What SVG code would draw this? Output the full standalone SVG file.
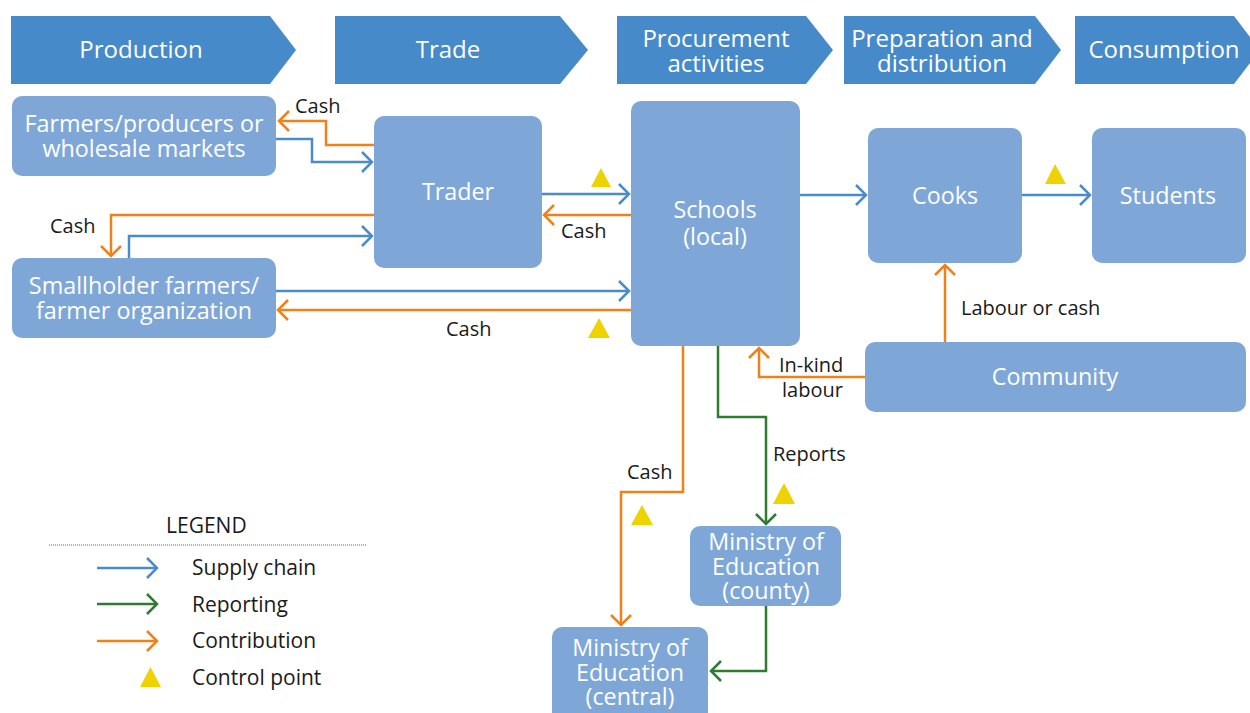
<svg xmlns="http://www.w3.org/2000/svg" width="1250" height="713" viewBox="0 0 1250 713">
<style>
.chev{fill:#468ac9}
.node{fill:#7ea7d8}
.bt{font-family:'Open Sans','Liberation Sans',sans-serif;font-size:24px;fill:#fff;text-anchor:middle}
.nt{font-family:'Open Sans','Liberation Sans',sans-serif;font-size:23.3px;fill:#fff;text-anchor:middle}
.lbl{font-family:'Open Sans','Liberation Sans',sans-serif;font-size:20px;fill:#1a1a1a}
.lg{font-family:'Open Sans','Liberation Sans',sans-serif;font-size:21px;fill:#1a1a1a}
.c{fill:none;stroke-width:2.5}
.b{stroke:#4a8bca;marker-end:url(#ab)}
.o{stroke:#f08118;marker-end:url(#ao)}
.g{stroke:#2e7b31;marker-end:url(#ag)}
.tri{fill:#efd300}
</style>
<defs>
<marker id="ab" markerUnits="userSpaceOnUse" viewBox="-12 -12 16 24" markerWidth="16" markerHeight="24" refX="0" refY="0" orient="auto"><path d="M-10,-10 L0,0 L-10,10" fill="none" stroke="#4a8bca" stroke-width="2.5"/></marker>
<marker id="ao" markerUnits="userSpaceOnUse" viewBox="-12 -12 16 24" markerWidth="16" markerHeight="24" refX="0" refY="0" orient="auto"><path d="M-10,-10 L0,0 L-10,10" fill="none" stroke="#f08118" stroke-width="2.5"/></marker>
<marker id="ag" markerUnits="userSpaceOnUse" viewBox="-12 -12 16 24" markerWidth="16" markerHeight="24" refX="0" refY="0" orient="auto"><path d="M-10,-10 L0,0 L-10,10" fill="none" stroke="#2e7b31" stroke-width="2.5"/></marker>
</defs>
<rect width="1250" height="713" fill="#fff"/>

<g id="stage-production"><path class="chev" d="M11,16 H270 L296,50 L270,84 H11 Z"/><text class="bt" x="141" y="58">Production</text></g>
<g id="stage-trade"><path class="chev" d="M335,16 H560 L588,50 L560,84 H335 Z"/><text class="bt" x="448" y="58">Trade</text></g>
<g id="stage-procurement"><path class="chev" d="M617,16 H806 L833,50 L806,84 H617 Z"/><text class="bt" x="716" y="47">Procurement<tspan x="716" dy="25">activities</tspan></text></g>
<g id="stage-preparation"><path class="chev" d="M844,16 H1035 L1061,50 L1035,84 H844 Z"/><text class="bt" x="942" y="47">Preparation and<tspan x="942" dy="25">distribution</tspan></text></g>
<g id="stage-consumption"><path class="chev" d="M1075,16 H1234 L1260,50 L1234,84 H1075 Z"/><text class="bt" x="1164" y="58">Consumption</text></g>

<g id="connectors">
<path class="c o" d="M374,145 H326 V121 H279"/>
<path class="c b" d="M276,139 H312 V162 H372"/>
<path class="c o" d="M374,215 H111 V256"/>
<path class="c b" d="M129,258 V236 H372"/>
<path class="c b" d="M542,194 H629"/>
<path class="c o" d="M631,215 H544"/>
<path class="c b" d="M276,291 H629"/>
<path class="c o" d="M631,310 H278"/>
<path class="c b" d="M800,195 H866"/>
<path class="c b" d="M1022,195 H1090"/>
<path class="c o" d="M945,342 V265"/>
<path class="c o" d="M865,377 H759 V348"/>
<path class="c o" d="M683,346 V492 H621 V625"/>
<path class="c g" d="M718,346 V417 H766 V524"/>
<path class="c g" d="M766,606 V671 H711"/>
</g>

<g id="labels">
<text class="lbl" x="295" y="113">Cash</text>
<text class="lbl" x="50" y="233">Cash</text>
<text class="lbl" x="561" y="238">Cash</text>
<text class="lbl" x="446" y="336">Cash</text>
<text class="lbl" x="961" y="315">Labour or cash</text>
<text class="lbl" x="779" y="372">In-kind<tspan x="782" dy="25">labour</tspan></text>
<text class="lbl" x="627" y="479">Cash</text>
<text class="lbl" x="773" y="461">Reports</text>
</g>

<g id="control-points">
<polygon class="tri" points="591,187 601,168 611,187"/>
<polygon class="tri" points="588,338 599,318 610,338"/>
<polygon class="tri" points="1045,184 1055,164 1066,184"/>
<polygon class="tri" points="631,525 642,505 653,525"/>
<polygon class="tri" points="773,504 784,483 795,504"/>
</g>

<g id="farmers"><rect class="node" x="12" y="96" width="264" height="80" rx="10"/><text class="nt" x="144" y="132">Farmers/producers or<tspan x="144" dy="25">wholesale markets</tspan></text></g>
<g id="smallholder"><rect class="node" x="12" y="258" width="264" height="80" rx="10"/><text class="nt" x="144" y="294">Smallholder farmers/<tspan x="144" dy="25">farmer organization</tspan></text></g>
<g id="trader"><rect class="node" x="374" y="116" width="168" height="152" rx="10"/><text class="nt" x="458" y="200">Trader</text></g>
<g id="schools"><rect class="node" x="631" y="101" width="169" height="245" rx="10"/><text class="nt" x="715" y="218">Schools<tspan x="715" dy="27">(local)</tspan></text></g>
<g id="cooks"><rect class="node" x="868" y="128" width="154" height="135" rx="10"/><text class="nt" x="945" y="204">Cooks</text></g>
<g id="students"><rect class="node" x="1092" y="128" width="154" height="135" rx="10"/><text class="nt" x="1168" y="204">Students</text></g>
<g id="community"><rect class="node" x="865" y="342" width="381" height="70" rx="10"/><text class="nt" x="1055" y="385">Community</text></g>
<g id="moe-county"><rect class="node" x="690" y="526" width="151" height="80" rx="10"/><text class="nt" x="766" y="550">Ministry of<tspan x="766" dy="25">Education</tspan><tspan x="766" dy="24">(county)</tspan></text></g>
<g id="moe-central"><rect class="node" x="552" y="627" width="156" height="100" rx="10"/><text class="nt" x="630" y="656">Ministry of<tspan x="630" dy="25">Education</tspan><tspan x="630" dy="24">(central)</tspan></text></g>

<g id="legend">
<text class="lg" x="166" y="533">LEGEND</text>
<line x1="49" y1="545" x2="367" y2="545" stroke="#666" stroke-width="1.2" stroke-dasharray="1 1"/>
<line class="c b" x1="97" y1="568" x2="157" y2="568"/>
<line class="c g" x1="97" y1="604" x2="157" y2="604"/>
<line class="c o" x1="97" y1="641" x2="157" y2="641"/>
<polygon class="tri" points="140,687 150.5,667 161,687"/>
<text class="lg" x="192" y="575">Supply chain</text>
<text class="lg" x="192" y="612">Reporting</text>
<text class="lg" x="192" y="648">Contribution</text>
<text class="lg" x="192" y="685">Control point</text>
</g>
</svg>
